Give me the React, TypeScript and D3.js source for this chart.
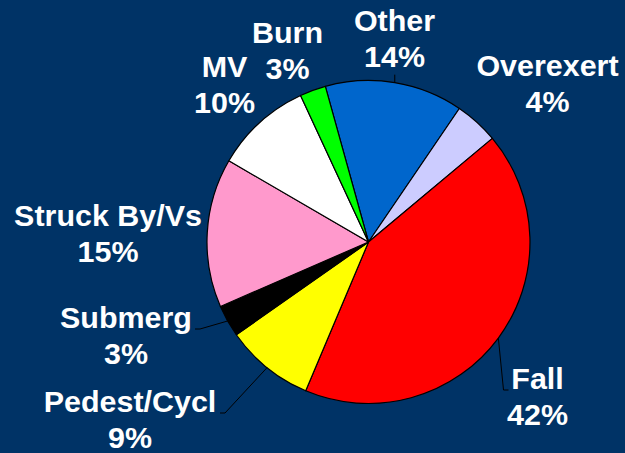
import React, { useRef, useEffect } from 'react';
import * as d3 from 'd3';

// slice order is clockwise, starting with "Other" just left of 12 o'clock
const categories = ['Other', 'Overexert', 'Fall', 'Pedest/Cycl', 'Submerg', 'Struck By/Vs', 'MV', 'Burn'];
const values = [13.8, 4.4, 42.4, 8.9, 3.2, 14.9, 9.7, 2.6];
const percentLabels = ['14%', '4%', '42%', '9%', '3%', '15%', '10%', '3%'];
const colors = ['#0066CC', '#CCCCFF', '#FF0000', '#FFFF00', '#000000', '#FF99CC', '#FFFFFF', '#00FF00'];

const WIDTH = 625;
const HEIGHT = 453;

const App = () => {
  const ref = useRef<SVGSVGElement>(null);

  useEffect(() => {
    const svg = d3.select(ref.current);
    svg.selectAll('*').remove();

    const cx = 368.5;
    const cy = 242;
    const radius = 161.5;
    const toRad = (deg: number) => (deg * Math.PI) / 180;

    svg.append('rect').attr('width', WIDTH).attr('height', HEIGHT).attr('fill', '#003366');

    const data = categories.map((name, i) => ({ name, value: values[i], pct: percentLabels[i], color: colors[i] }));

    const pie = d3.pie<any>()
      .sort(null)
      .value(d => d.value)
      .startAngle(toRad(-15.5))
      .endAngle(toRad(-15.5) + Math.PI * 2);

    const arcs = pie(data);
    const arc = d3.arc<any>().innerRadius(0).outerRadius(radius);

    const g = svg.append('g').attr('transform', `translate(${cx},${cy})`);

    g.selectAll('path.slice')
      .data(arcs)
      .join('path')
      .attr('class', 'slice')
      .attr('d', arc)
      .attr('fill', d => d.data.color)
      .attr('stroke', '#000')
      .attr('stroke-width', 1.2)
      .attr('stroke-linejoin', 'round');

    // label block centres (x = text centre, y = first baseline), relative to the pie centre
    const labelPos: Record<string, [number, number]> = {
      'Other': [26, -211],
      'Overexert': [179, -166],
      'Fall': [169, 147],
      'Pedest/Cycl': [-238.5, 170],
      'Submerg': [-242.5, 86],
      'Struck By/Vs': [-260.5, -16],
      'MV': [-144, -165],
      'Burn': [-81, -199],
    };

    // leader elbows for labels Excel pulled away from the slice
    const leaders: Record<string, [number, number][]> = {
      'Other': [[0, -8]],
      'Fall': [[135, 148], [140, 148]],
      'Submerg': [[-168.5, 87], [-173.5, 87]],
      'Pedest/Cycl': [[-143.5, 171], [-148.5, 171]],
    };

    arcs.forEach(a => {
      const pts = leaders[a.data.name];
      if (!pts) return;
      const mid = (a.startAngle + a.endAngle) / 2;
      const edge: [number, number] = [Math.sin(mid) * radius, -Math.cos(mid) * radius];
      const line = d3.line();
      const path = a.data.name === 'Other'
        ? [edge, [edge[0], edge[1] + pts[0][1]] as [number, number]]
        : [edge, ...pts];
      g.append('path')
        .attr('d', line(path))
        .attr('fill', 'none')
        .attr('stroke', '#000')
        .attr('stroke-width', 1);
    });

    // the original text is a touch wider than Arial bold, so stretch it slightly
    const labels = g.selectAll('text.label')
      .data(arcs)
      .join('text')
      .attr('class', 'label')
      .attr('text-anchor', 'middle')
      .attr('fill', '#FFFFFF')
      .attr('font-family', '"Liberation Sans", Arial, sans-serif')
      .attr('font-weight', 'bold')
      .attr('font-size', 29)
      .attr('transform', d => `translate(${labelPos[d.data.name][0]},${labelPos[d.data.name][1]}) scale(1.05,1)`);

    labels.append('tspan').attr('x', 0).attr('y', 0).text(d => d.data.name);
    labels.append('tspan').attr('x', 0).attr('y', 36).text(d => d.data.pct);
  }, []);

  return (
    <svg
      ref={ref}
      width={WIDTH}
      height={HEIGHT}
      style={{ position: 'fixed', top: 0, left: 0, display: 'block' }}
    />
  );
};

export default App;
